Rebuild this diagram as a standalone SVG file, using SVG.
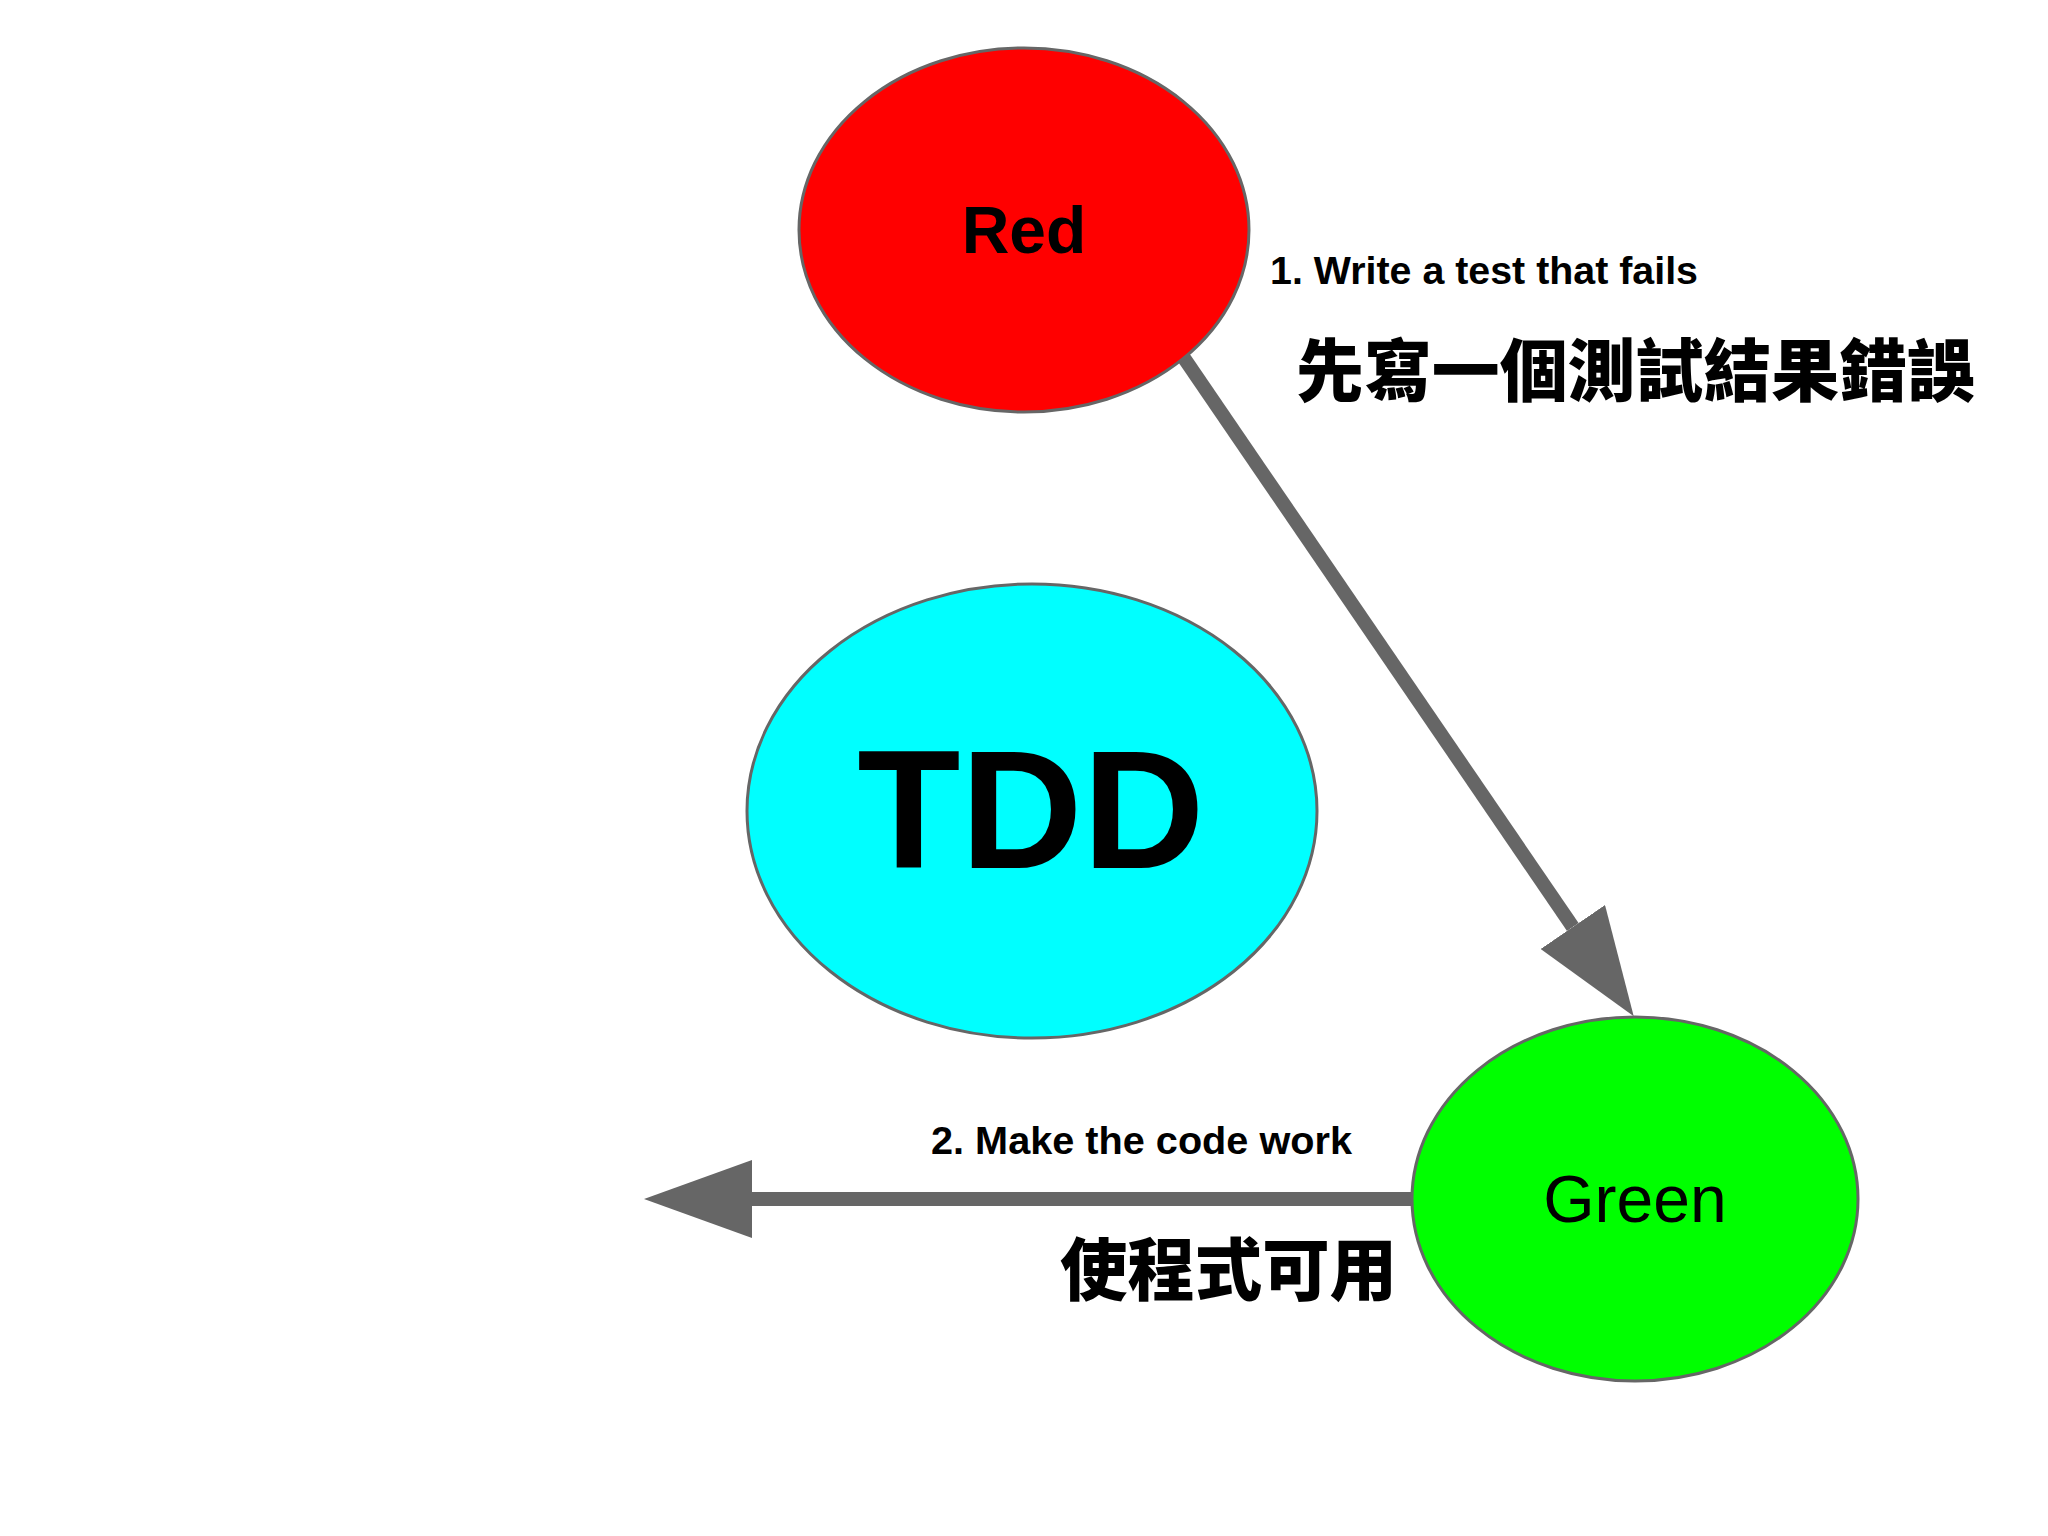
<svg xmlns="http://www.w3.org/2000/svg" width="2048" height="1536" viewBox="0 0 2048 1536">
<style>
.node{stroke:#666666;stroke-width:3}
.lbl{font-family:"Liberation Sans",Arial,sans-serif;fill:#000;text-anchor:middle}
.en{font-family:"Liberation Sans",Arial,sans-serif;font-weight:bold;font-size:39px;fill:#000}
.zh{font-family:"Noto Sans CJK TC","Noto Sans CJK SC",sans-serif;font-weight:900;font-size:68px;fill:#000}
.conn{stroke:#666666;stroke-width:14;fill:none}
</style>
<defs>
<marker id="ah" markerUnits="userSpaceOnUse" markerWidth="108" markerHeight="78" refX="0" refY="39" orient="auto" viewBox="0 0 108 78">
<path d="M0,0 L108,39 L0,78 Z" fill="#666666"/>
</marker>
</defs>
<rect width="2048" height="1536" fill="#ffffff"/>
<g id="connectors">
<line class="conn" x1="1184" y1="358" x2="1572.8" y2="927" marker-end="url(#ah)"/>
<line class="conn" x1="1412" y1="1199" x2="752" y2="1199" marker-end="url(#ah)"/>
</g>
<g id="node-red">
<ellipse class="node" cx="1024" cy="230" rx="225" ry="182" fill="#ff0000"/>
<text class="lbl" x="1024" y="253" font-size="66" font-weight="bold">Red</text>
</g>
<g id="node-tdd">
<ellipse class="node" cx="1032" cy="811" rx="285" ry="227" fill="#00ffff"/>
<text class="lbl" x="1031" y="868" font-size="169" font-weight="bold">TDD</text>
</g>
<g id="node-green">
<ellipse class="node" cx="1635" cy="1199" rx="223" ry="182" fill="#00ff00"/>
<text class="lbl" x="1635" y="1222" font-size="66">Green</text>
</g>
<g id="labels">
<text class="en" x="1270" y="284" textLength="428" lengthAdjust="spacingAndGlyphs">1. Write a test that fails</text>
<text class="zh" x="1296" y="396" textLength="679" lengthAdjust="spacingAndGlyphs">先寫一個測試結果錯誤</text>
<text class="en" x="931" y="1154" textLength="421" lengthAdjust="spacingAndGlyphs">2. Make the code work</text>
<text class="zh" x="1060" y="1295" textLength="337" lengthAdjust="spacingAndGlyphs">使程式可用</text>
</g>
</svg>
